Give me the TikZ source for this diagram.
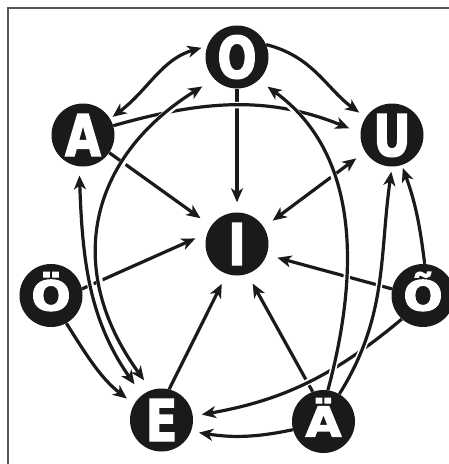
\documentclass[tikz,border=0pt]{standalone}
\usepackage{fontspec}
\usetikzlibrary{arrows.meta,backgrounds}
\newfontfamily\vf{DejaVu Sans Bold}[FakeStretch=0.8,FakeBold=2.5]
\definecolor{ink}{HTML}{1C1A18}
\definecolor{framegray}{HTML}{555555}
\begin{document}
\begin{tikzpicture}[x=1pt,y=-1pt,
  vowel/.style={circle, fill=ink, text=white, minimum size=63pt, inner sep=0pt,
    font=\vf\fontsize{57.6}{58}\selectfont, text height=42pt, text depth=0pt},
  vowelacc/.style={vowel, text height=30pt},
  link/.style={draw=ink, line width=3.2pt,
    preaction={draw=white, line width=6.5pt, -},
    -{Stealth[length=14pt,width=12pt,inset=4pt]}},
  dlink/.style={link, {Stealth[length=14pt,width=12pt,inset=4pt]}-{Stealth[length=14pt,width=12pt,inset=4pt]}}
]
\useasboundingbox (0,0) rectangle (449,464);
\draw[framegray, line width=1.5pt] (8,464) -- (8,8) -- (449,8);

\node[vowel] (O) at (237,57) {O};
\node[vowel] (A) at (83,135) {A};
\node[vowel] (U) at (392,135) {U};
\node[vowel] (I) at (237,244) {I};
\node[vowelacc] (Oe) at (51,295.5) {\scalebox{1}[0.72]{Ö}};
\node[vowelacc] (Ot) at (423,295.5) {\scalebox{1}[0.72]{Õ}};
\node[vowel] (E) at (161.5,420) {E};
\node[vowelacc] (Ae) at (323.5,421.5) {\scalebox{1}[0.72]{Ä}};

\begin{pgfonlayer}{background}
% straight connectors into I
\draw[link, shorten >=13pt] (A.-34) -- (I.145);
\draw[link, shorten >=10pt] (O) -- (I);
\draw[dlink, shorten <=11pt, shorten >=11pt] (U.212) -- (I.32);
\draw[link, shorten >=13pt] (Oe.12) -- (I.160);
\draw[link, shorten >=11pt] (Ot.168) -- (I.-20);
\draw[link, shorten >=11pt] (E.76) -- (I.251);
\draw[link, shorten >=11pt] (Ae.110) -- (I.-71);
% curves
\draw[dlink, shorten <=3pt, shorten >=6pt] (A.31) to[out=37,in=196] (O.160);
\draw[link, shorten >=8pt] (O.23) to[out=-14,in=144] (U.146);
\draw[link, shorten >=12pt] (A.17) to[out=16,in=158] (U.176);
\draw[link, shorten >=9pt] (Oe.-61) to[out=-58,in=142] (E.150);
\draw[link, shorten >=9pt] (Ot.228) to[out=220,in=10] (E.7);
\draw[link, shorten >=8pt] (Ae.195) to[out=192,in=-9] (E.-21);
\draw[link, shorten >=3pt] (Ot.87) to[out=97,in=-70] (U.-72);
\draw[link, shorten >=5pt] (Ae.60) to[out=58,in=-98] (U.-90);
\draw[link, shorten >=11pt] (Ae.82) to[out=75,in=-36] (O.-47);
\draw[dlink, shorten <=9pt, shorten >=13pt] (A.-97) to[out=-88,in=125] (E.128);
\draw[dlink, shorten <=14pt, shorten >=12pt] (O.224) to[out=212,in=126,looseness=1.2] (E.109);
\end{pgfonlayer}
\end{tikzpicture}
\end{document}
